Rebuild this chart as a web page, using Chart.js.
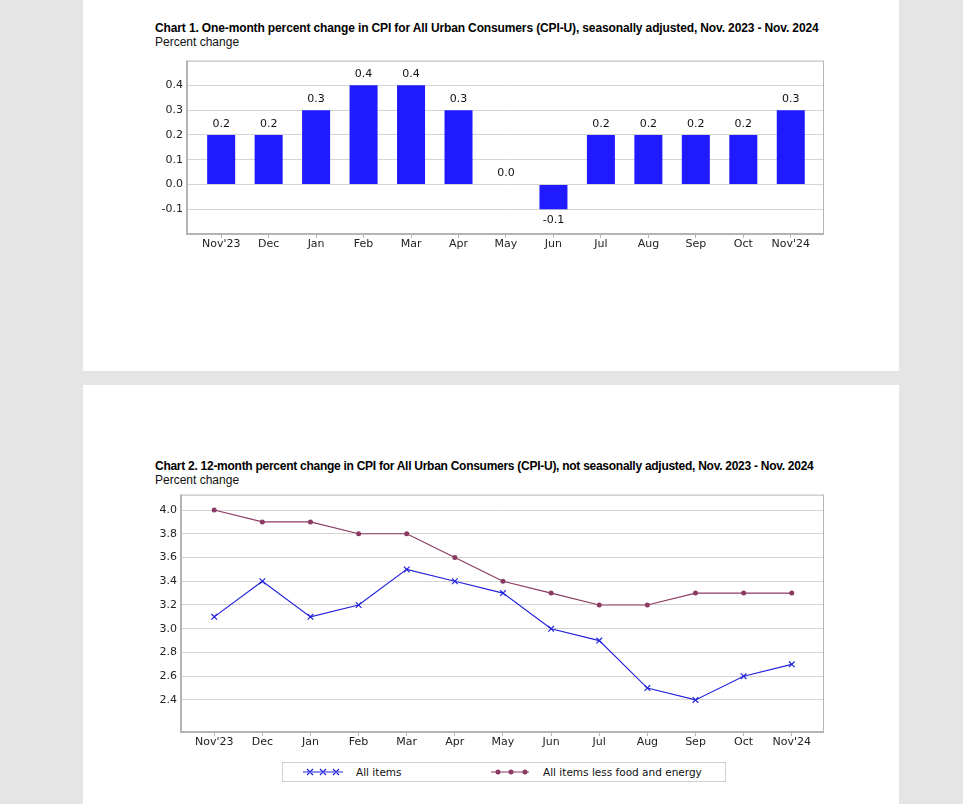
<!DOCTYPE html>
<html>
<head>
<meta charset="utf-8">
<script src="https://cdn.jsdelivr.net/npm/chart.js@4.4.1/dist/chart.umd.min.js"></script>
<style>
  body { margin: 0; background: #e5e5e5; width: 963px; height: 804px; position: relative; overflow: hidden; font-family: "DejaVu Sans", sans-serif; }
  .panel { position: absolute; left: 83px; width: 816px; background: #fff; }
  .ttl { position: absolute; left: 155px; font: bold 12px "Liberation Sans", sans-serif; letter-spacing: -0.13px; color: #000; white-space: nowrap; }
  .sub { position: absolute; left: 155px; font: 12px "Liberation Sans", sans-serif; color: #111; white-space: nowrap; }
  .cv { position: absolute; }
  #legend { position: absolute; left: 282px; top: 762px; width: 442px; height: 18px; border: 1px solid #d0d0d0; background: #fff; font-size: 10.5px; color: #111; }
  #legend span { position: absolute; top: 3px; }
  #legend svg { position: absolute; top: 0; left: 0; }
</style>
</head>
<body>
<div class="panel" style="top:0;height:371px"></div>
<div class="panel" style="top:385px;height:419px"></div>

<div class="ttl" style="top:21px">Chart 1. One-month percent change in CPI for All Urban Consumers (CPI-U), seasonally adjusted, Nov. 2023 - Nov. 2024</div>
<div class="sub" style="top:35px">Percent change</div>
<div class="cv" style="left:150px;top:50px;width:680px;height:208px"><canvas id="chart1"></canvas></div>

<div class="ttl" style="top:459px;letter-spacing:-0.27px">Chart 2. 12-month percent change in CPI for All Urban Consumers (CPI-U), not seasonally adjusted, Nov. 2023 - Nov. 2024</div>
<div class="sub" style="top:473px">Percent change</div>
<div class="cv" style="left:145px;top:484px;width:685px;height:272px"><canvas id="chart2"></canvas></div>

<div id="legend">
  <svg width="442" height="18">
    <line x1="20" y1="9" x2="60" y2="9" stroke="#2222dd" stroke-width="1.2"/>
    <path d="M24 6 l6 6 M30 6 l-6 6 M37 6 l6 6 M43 6 l-6 6 M50 6 l6 6 M56 6 l-6 6" stroke="#2222dd" stroke-width="1.2"/>
    <line x1="208" y1="9" x2="246" y2="9" stroke="#8b3a62" stroke-width="1.2"/>
    <circle cx="215" cy="9" r="2.5" fill="#8b3a62"/>
    <circle cx="228" cy="9" r="2.5" fill="#8b3a62"/>
    <circle cx="242" cy="9" r="2.5" fill="#8b3a62"/>
  </svg>
  <span style="left:73px">All items</span>
  <span style="left:260px">All items less food and energy</span>
</div>

<script>
var months = ["Nov'23", "Dec", "Jan", "Feb", "Mar", "Apr", "May", "Jun", "Jul", "Aug", "Sep", "Oct", "Nov'24"];
var oneMonthChange = [0.2, 0.2, 0.3, 0.4, 0.4, 0.3, 0.0, -0.1, 0.2, 0.2, 0.2, 0.2, 0.3];
var allItems = [3.1, 3.4, 3.1, 3.2, 3.5, 3.4, 3.3, 3.0, 2.9, 2.5, 2.4, 2.6, 2.7];
var lessFoodEnergy = [4.0, 3.9, 3.9, 3.8, 3.8, 3.6, 3.4, 3.3, 3.2, 3.2, 3.3, 3.3, 3.3];
var chart1Ticks = [-0.1, 0.0, 0.1, 0.2, 0.3, 0.4];
var chart2Ticks = [2.4, 2.6, 2.8, 3.0, 3.2, 3.4, 3.6, 3.8, 4.0];

var tickFont = { family: 'DejaVu Sans', size: 11 };

function toPoints(vals) {
  return vals.map(function (v, i) { return { x: i, y: v }; });
}

// frame around the plot area
var framePlugin = {
  id: 'frame',
  afterDraw: function (chart) {
    var a = chart.chartArea, ctx = chart.ctx;
    ctx.save();
    ctx.strokeStyle = '#b4b4b4';
    ctx.lineWidth = 1;
    ctx.strokeRect(a.left + 0.5, a.top + 0.5, a.right - a.left - 1, a.bottom - a.top - 1);
    ctx.lineWidth = 2;
    ctx.beginPath();
    ctx.moveTo(a.left, a.top);
    ctx.lineTo(a.left, a.bottom);
    ctx.lineTo(a.right, a.bottom);
    ctx.stroke();
    ctx.restore();
  }
};

// value labels above / below bars
var barLabels = {
  id: 'barLabels',
  afterDatasetsDraw: function (chart) {
    var ctx = chart.ctx;
    var meta = chart.getDatasetMeta(0);
    ctx.save();
    ctx.font = '11px "DejaVu Sans"';
    ctx.fillStyle = '#111';
    ctx.textAlign = 'center';
    ctx.textBaseline = 'middle';
    meta.data.forEach(function (bar, i) {
      var v = oneMonthChange[i];
      var y = v < 0 ? bar.y + 11 : bar.y - 11;
      ctx.fillText(v.toFixed(1), bar.x, y);
    });
    ctx.restore();
  }
};

function xScale(min, max) {
  return {
    type: 'linear',
    min: min,
    max: max,
    offset: false,
    afterBuildTicks: function (s) { s.ticks = months.map(function (m, i) { return { value: i }; }); },
    afterFit: function (s) { s.height = 24; },
    ticks: {
      autoSkip: false,
      maxRotation: 0,
      padding: 0,
      color: '#222',
      font: tickFont,
      callback: function (v) { return months[v]; }
    },
    grid: { drawOnChartArea: false, tickLength: 4, color: '#b4b4b4', offset: false },
    border: { display: false }
  };
}

function yScale(min, max, ticksList, width) {
  return {
    min: min,
    max: max,
    afterBuildTicks: function (s) { s.ticks = ticksList.map(function (v) { return { value: v }; }); },
    afterFit: function (s) { s.width = width; },
    ticks: {
      color: '#222',
      font: tickFont,
      padding: 4,
      callback: function (v) { return v.toFixed(1); }
    },
    grid: { color: '#d4d4d4', lineWidth: 1, drawTicks: false },
    border: { display: false }
  };
}

new Chart(document.getElementById('chart1'), {
  type: 'bar',
  data: {
    datasets: [{
      label: 'One-month percent change',
      data: toPoints(oneMonthChange),
      backgroundColor: '#1f1aff',
      borderWidth: 0,
      barPercentage: 0.59,
      categoryPercentage: 1
    }]
  },
  options: {
    responsive: true,
    maintainAspectRatio: false,
    animation: false,
    layout: { padding: { top: 8, right: 6, left: 0, bottom: 0 } },
    scales: {
      x: xScale(-0.72, 12.7),
      y: yScale(-0.2, 0.5, chart1Ticks, 37)
    },
    plugins: { legend: { display: false }, tooltip: { enabled: false } }
  },
  plugins: [barLabels, framePlugin]
});

new Chart(document.getElementById('chart2'), {
  type: 'line',
  data: {
    datasets: [
      {
        label: 'All items',
        data: toPoints(allItems),
        borderColor: '#2222dd',
        backgroundColor: '#2222dd',
        borderWidth: 1.2,
        pointStyle: 'crossRot',
        pointRadius: 4,
        pointBorderWidth: 1.2,
        tension: 0
      },
      {
        label: 'All items less food and energy',
        data: toPoints(lessFoodEnergy),
        borderColor: '#8b3a62',
        backgroundColor: '#8b3a62',
        borderWidth: 1.2,
        pointStyle: 'circle',
        pointRadius: 2.5,
        pointBorderWidth: 0,
        tension: 0
      }
    ]
  },
  options: {
    responsive: true,
    maintainAspectRatio: false,
    animation: false,
    layout: { padding: { top: 9, right: 6, left: 0, bottom: 0 } },
    scales: {
      x: xScale(-0.69, 12.67),
      y: yScale(2.13, 4.13, chart2Ticks, 36)
    },
    plugins: { legend: { display: false }, tooltip: { enabled: false } }
  },
  plugins: [framePlugin]
});
</script>
</body>
</html>
